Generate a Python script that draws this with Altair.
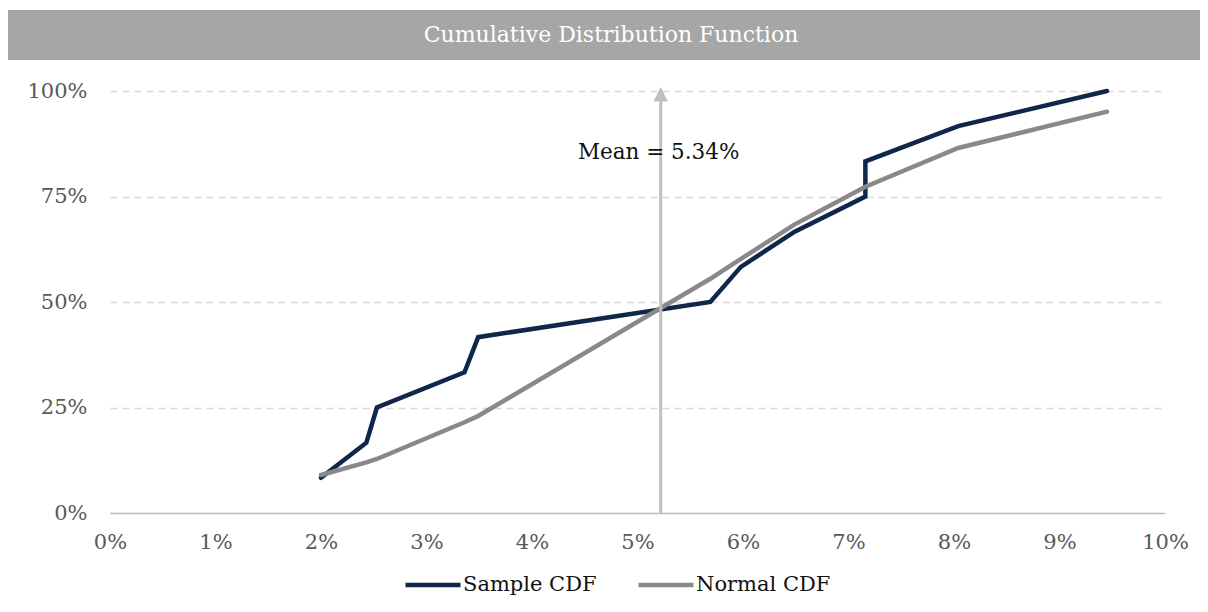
import altair as alt
import pandas as pd

# ---- data ----
x_values = [2.00, 2.43, 2.53, 3.36, 3.49, 5.69, 5.98, 6.49, 7.16, 7.16, 8.04, 9.45]   # % return
sample_cdf = [8.33, 16.67, 25.0, 33.33, 41.67, 50.0, 58.33, 66.67, 75.0, 83.33, 91.67, 100.0]
normal_cdf = [9.0, 12.0, 12.8, 21.5, 23.0, 55.5, 60.2, 68.4, 77.3, 77.3, 86.5, 95.1]
series_names = ["Sample CDF", "Normal CDF"]
series_colors = ["#10264a", "#898989"]
x_ticks = [i / 100 for i in range(0, 11)]
y_ticks = [0, 0.25, 0.5, 0.75, 1.0]
mean_position = 5.22          # where the arrow is drawn (in %)
mean_label = "Mean = 5.34%"
title_text = "Cumulative Distribution Function"

FONT = "DejaVu Serif"
W, H = 1055, 422
PAD_R = 35

rows = []
for i, (xv, s, n) in enumerate(zip(x_values, sample_cdf, normal_cdf)):
    rows.append({"x": xv / 100, "y": s / 100, "series": series_names[0], "order": i})
    rows.append({"x": xv / 100, "y": n / 100, "series": series_names[1], "order": i})
df = pd.DataFrame(rows)

x_scale = alt.Scale(domain=[0, 0.1], nice=False)
y_scale = alt.Scale(domain=[0, 1], nice=False)

x_axis = alt.Axis(format=".0%", values=x_ticks, grid=False, ticks=False, tickSize=0,
                  domain=True, domainColor="#bfbfbf", domainWidth=1.5,
                  labelFlush=False, labelOverlap=False,
                  labelFont=FONT, labelFontSize=21, labelColor="#595959",
                  labelPadding=18, title=None)
y_axis = alt.Axis(format=".0%", values=y_ticks, grid=True, gridColor="#d9d9d9",
                  gridDash=[7, 5], gridWidth=1.5, ticks=False, tickSize=0,
                  domain=False, labelFont=FONT, labelFontSize=21,
                  labelColor="#595959", labelPadding=23, title=None)

lines = alt.Chart(df).mark_line(strokeWidth=4.5, strokeCap="round").encode(
    x=alt.X("x:Q", scale=x_scale, axis=x_axis),
    y=alt.Y("y:Q", scale=y_scale, axis=y_axis),
    color=alt.Color("series:N",
                    scale=alt.Scale(domain=series_names, range=series_colors),
                    sort=series_names,
                    legend=alt.Legend(orient="none", legendX=293, legendY=464,
                                      direction="horizontal", title=None,
                                      symbolType="stroke", symbolSize=3025,
                                      symbolStrokeWidth=4.5, labelFont=FONT,
                                      labelFontSize=21, labelColor="#111111",
                                      columnPadding=32, labelOffset=0, padding=0)),
    order="order:Q",
)

mean_df = pd.DataFrame({"x": [mean_position / 100], "y0": [0.0], "y1": [0.976],
                        "yh": [0.9924], "label": [mean_label],
                        "lx": [4.436 / 100], "ly": [0.853]})

mean_rule = alt.Chart(mean_df).mark_rule(color="#bfbfbf", strokeWidth=3).encode(
    x=alt.X("x:Q", scale=x_scale), y=alt.Y("y0:Q", scale=y_scale), y2="y1:Q")
mean_head = alt.Chart(mean_df).mark_point(shape="M-1,1L0,-1L1,1Z", filled=True,
                                          size=210, color="#bfbfbf", opacity=1).encode(
    x=alt.X("x:Q", scale=x_scale), y=alt.Y("yh:Q", scale=y_scale))
mean_text = alt.Chart(mean_df).mark_text(align="left", baseline="middle", font=FONT,
                                         fontSize=21.5, color="#111111").encode(
    x=alt.X("lx:Q", scale=x_scale), y=alt.Y("ly:Q", scale=y_scale), text="label:N")

band = alt.Chart(pd.DataFrame({"t": [title_text]})).mark_rect(color="#a6a6a6").encode(
    x=alt.value(-102), x2=alt.value(W + PAD_R), y=alt.value(-81), y2=alt.value(-31))
band_text = alt.Chart(pd.DataFrame({"t": [title_text]})).mark_text(
    font=FONT, fontSize=22, color="white", align="center", baseline="middle").encode(
    x=alt.value(501), y=alt.value(-56), text="t:N")

chart = alt.layer(band, band_text, lines, mean_rule, mean_head, mean_text).properties(
    width=W, height=H,
    autosize=alt.AutoSizeParams(type="none"),
    padding={"left": 102, "top": 83, "right": PAD_R, "bottom": 91},
).configure_view(stroke=None)

chart.save("out.html", embed_options={"renderer": "svg", "actions": False})
